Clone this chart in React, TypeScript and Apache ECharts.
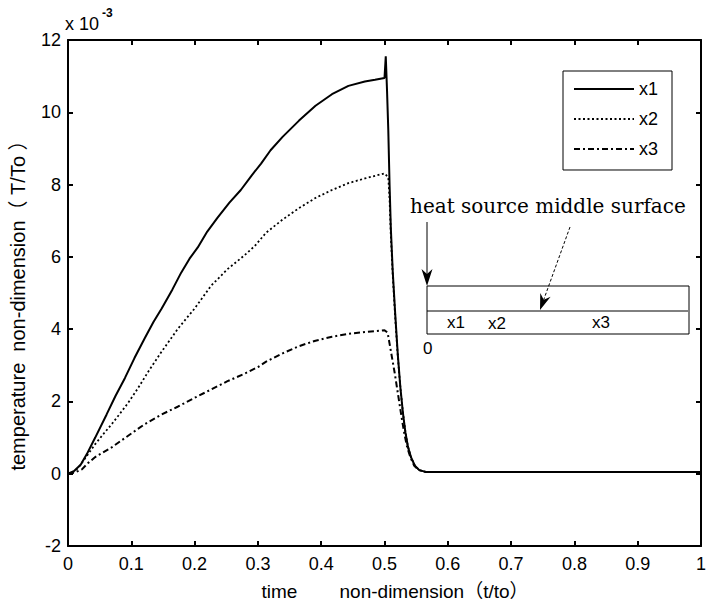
import React, { useEffect, useRef } from "react";
import * as echarts from "echarts";

// ---- data (t/to, value ×10^-3) ----
const xTicks = [0, 0.1, 0.2, 0.3, 0.4, 0.5, 0.6, 0.7, 0.8, 0.9, 1];
const yTicks = [-2, 0, 2, 4, 6, 8, 10, 12];
const seriesNames = ["x1", "x2", "x3"];

const x1Points: [number, number][] = [
  [0, 0], [0.01, 0.08], [0.02, 0.25], [0.03, 0.55], [0.043, 1.0], [0.061, 1.64],
  [0.075, 2.15], [0.09, 2.65], [0.105, 3.2], [0.121, 3.74], [0.135, 4.2],
  [0.148, 4.57], [0.165, 5.1], [0.179, 5.57], [0.192, 5.95], [0.205, 6.26],
  [0.22, 6.7], [0.236, 7.08], [0.255, 7.5], [0.273, 7.85], [0.29, 8.25],
  [0.305, 8.58], [0.32, 8.95], [0.339, 9.32], [0.365, 9.77], [0.391, 10.18],
  [0.417, 10.5], [0.443, 10.73], [0.469, 10.85], [0.485, 10.9], [0.5, 10.95],
  [0.502, 11.55], [0.504, 10.6], [0.506, 9.5], [0.508, 8.0], [0.51, 6.8],
  [0.513, 5.6], [0.517, 4.4], [0.521, 3.3], [0.525, 2.4], [0.529, 1.7],
  [0.533, 1.15], [0.537, 0.75], [0.542, 0.45], [0.548, 0.22], [0.555, 0.1],
  [0.565, 0.05], [0.7, 0.05], [1.0, 0.05],
];

const x2Points: [number, number][] = [
  [0, 0], [0.01, 0.06], [0.017, 0.18], [0.03, 0.5], [0.043, 0.82], [0.056, 1.1],
  [0.069, 1.37], [0.082, 1.66], [0.095, 1.96], [0.11, 2.35], [0.127, 2.83],
  [0.148, 3.38], [0.174, 4.02], [0.2, 4.57], [0.226, 5.2], [0.252, 5.66],
  [0.278, 6.03], [0.295, 6.3], [0.313, 6.67], [0.339, 7.03], [0.365, 7.35],
  [0.391, 7.63], [0.417, 7.85], [0.443, 8.04], [0.469, 8.17], [0.5, 8.31],
  [0.506, 8.2], [0.508, 7.6], [0.51, 6.6], [0.513, 5.5], [0.517, 4.3],
  [0.521, 3.25], [0.525, 2.4], [0.529, 1.7], [0.533, 1.15], [0.537, 0.75],
  [0.542, 0.45], [0.548, 0.22], [0.555, 0.1], [0.565, 0.05], [0.7, 0.05], [1.0, 0.05],
];

const x3Points: [number, number][] = [
  [0, 0], [0.01, 0.03], [0.022, 0.12], [0.032, 0.3], [0.043, 0.46], [0.069, 0.73],
  [0.095, 1.05], [0.121, 1.37], [0.148, 1.64], [0.174, 1.86], [0.2, 2.1],
  [0.226, 2.33], [0.252, 2.56], [0.278, 2.76], [0.3, 2.95], [0.313, 3.1],
  [0.339, 3.33], [0.365, 3.53], [0.391, 3.68], [0.417, 3.79], [0.443, 3.87],
  [0.469, 3.92], [0.5, 3.97], [0.505, 3.9], [0.508, 3.6], [0.512, 3.2],
  [0.516, 2.8], [0.52, 2.35], [0.524, 1.9], [0.528, 1.45], [0.532, 1.05],
  [0.536, 0.72], [0.541, 0.45], [0.547, 0.22], [0.554, 0.1], [0.565, 0.05],
  [0.7, 0.05], [1.0, 0.05],
];

const SANS = "'Liberation Sans', Arial, 'Noto Sans CJK SC', sans-serif";
const SERIF = "'DejaVu Serif', serif";

export default function App() {
  const ref = useRef<HTMLDivElement>(null);

  useEffect(() => {
    document.body.style.margin = "0";
    if (!ref.current) return;
    const chart = echarts.init(ref.current, undefined, { renderer: "svg" });

    const axisCommon = {
      type: "value" as const,
      axisLine: { show: true, onZero: false, lineStyle: { color: "#000", width: 2 } },
      axisTick: { show: true, inside: true, length: 5, lineStyle: { color: "#000", width: 2 } },
      splitLine: { show: false },
    };

    const arrowDir = (() => {
      const dx = 540 - 570, dy = 310 - 227;
      const l = Math.hypot(dx, dy);
      return [dx / l, dy / l];
    })();
    const tip2 = [540, 310];
    const base2 = [tip2[0] - 16 * arrowDir[0], tip2[1] - 16 * arrowDir[1]];
    const perp = [-arrowDir[1], arrowDir[0]];
    const notch2 = [tip2[0] - 11 * arrowDir[0], tip2[1] - 11 * arrowDir[1]];

    chart.setOption({
      animation: false,
      backgroundColor: "#fff",
      grid: { left: 66, top: 40, width: 642, height: 518, containLabel: false },
      xAxis: [
        {
          ...axisCommon,
          position: "bottom",
          min: xTicks[0],
          max: xTicks[xTicks.length - 1],
          interval: 0.1,
          axisLabel: {
            color: "#000",
            fontSize: 18,
            fontFamily: SANS,
            margin: 9,
            formatter: (v: number) => (v === 0 || v === 1 ? String(v) : v.toFixed(1)),
          },
          name: "time        non-dimension（t/to）",
          nameLocation: "middle",
          nameGap: 36,
          nameTextStyle: { color: "#000", fontSize: 19, fontFamily: SANS, padding: [0, 0, 0, 21] },
        },
        {
          ...axisCommon,
          position: "top",
          min: xTicks[0],
          max: xTicks[xTicks.length - 1],
          interval: 0.1,
          axisLabel: { show: false },
        },
      ],
      yAxis: [
        {
          ...axisCommon,
          position: "left",
          min: yTicks[0],
          max: yTicks[yTicks.length - 1],
          interval: 2,
          axisLabel: { color: "#000", fontSize: 18, fontFamily: SANS, margin: 7 },
          name: "temperature  non-dimension（ T/To ）",
          nameLocation: "middle",
          nameRotate: 90,
          nameGap: 40,
          nameTextStyle: { color: "#000", fontSize: 20, fontFamily: SANS, padding: [0, 15, 0, 0] },
        },
        {
          ...axisCommon,
          position: "right",
          min: yTicks[0],
          max: yTicks[yTicks.length - 1],
          interval: 2,
          axisLabel: { show: false },
        },
      ],
      legend: {
        orient: "vertical",
        left: 563,
        top: 71,
        padding: [9, 14, 12, 10],
        itemWidth: 60,
        itemHeight: 14,
        itemGap: 12,
        borderColor: "#000",
        borderWidth: 1,
        backgroundColor: "#fff",
        itemStyle: { color: "rgba(0,0,0,0)", borderWidth: 0, opacity: 0 },
        textStyle: { color: "#000", fontSize: 18, fontFamily: SANS },
        data: seriesNames,
      },
      series: [
        {
          name: seriesNames[0],
          type: "line",
          data: x1Points,
          symbol: "none",
          lineStyle: { color: "#000", width: 2, type: "solid" },
          itemStyle: { color: "#000" },
        },
        {
          name: seriesNames[1],
          type: "line",
          data: x2Points,
          symbol: "none",
          lineStyle: { color: "#000", width: 1.8, type: [2, 2.5] },
          itemStyle: { color: "#000" },
        },
        {
          name: seriesNames[2],
          type: "line",
          data: x3Points,
          symbol: "none",
          lineStyle: { color: "#000", width: 2, type: [6, 3, 2, 3] },
          itemStyle: { color: "#000" },
        },
      ],
      graphic: [
        {
          type: "text",
          left: 65,
          top: 15,
          style: { text: "x 10", fill: "#000", font: `18px ${SANS}` },
        },
        {
          type: "text",
          left: 102,
          top: 7,
          style: { text: "-3", fill: "#000", font: `bold 12px ${SANS}` },
        },
        // inset diagram
        {
          type: "text",
          left: 410,
          top: 196,
          style: { text: "heat source middle surface", fill: "#000", font: `20px ${SERIF}` },
        },
        {
          type: "rect",
          shape: { x: 427, y: 286, width: 262, height: 48 },
          style: { fill: "#fff", stroke: "#000", lineWidth: 1 },
        },
        {
          type: "line",
          shape: { x1: 427, y1: 311, x2: 688, y2: 311 },
          style: { stroke: "#000", lineWidth: 1 },
        },
        {
          type: "line",
          shape: { x1: 427, y1: 222, x2: 427, y2: 278 },
          style: { stroke: "#000", lineWidth: 1 },
        },
        {
          type: "polygon",
          shape: { points: [[427, 286], [421.5, 269], [427, 274], [432.5, 269]] },
          style: { fill: "#000" },
        },
        {
          type: "line",
          shape: { x1: 570, y1: 227, x2: notch2[0], y2: notch2[1] },
          style: { stroke: "#000", lineWidth: 1, lineDash: [3, 2] },
        },
        {
          type: "polygon",
          shape: {
            points: [
              tip2,
              [base2[0] + 5.5 * perp[0], base2[1] + 5.5 * perp[1]],
              notch2,
              [base2[0] - 5.5 * perp[0], base2[1] - 5.5 * perp[1]],
            ],
          },
          style: { fill: "#000" },
        },
        { type: "text", left: 447, top: 314, style: { text: "x1", fill: "#000", font: `17px ${SANS}` } },
        { type: "text", left: 488, top: 315, style: { text: "x2", fill: "#000", font: `17px ${SANS}` } },
        { type: "text", left: 592, top: 314, style: { text: "x3", fill: "#000", font: `17px ${SANS}` } },
        { type: "text", left: 423, top: 340, style: { text: "0", fill: "#000", font: `17px ${SANS}` } },
      ],
    });

    return () => chart.dispose();
  }, []);

  return <div ref={ref} style={{ width: 709, height: 606 }} />;
}
